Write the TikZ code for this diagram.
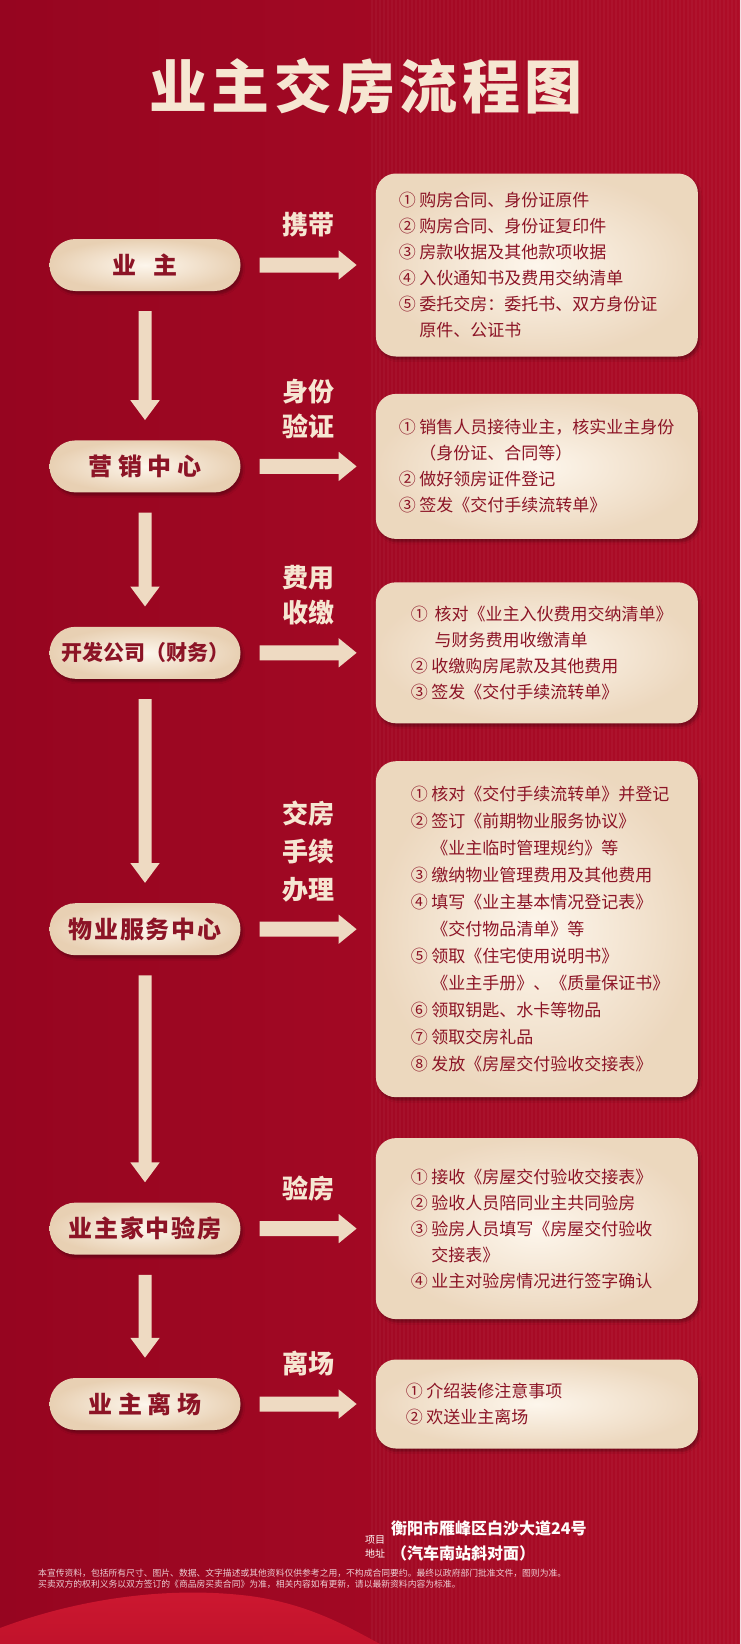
\documentclass[tikz,border=0pt]{standalone}
\usepackage{fontspec}
\setmainfont{Noto Sans CJK SC}
\usetikzlibrary{positioning,arrows.meta,shapes.misc,shadows.blur,fadings}

\definecolor{bgred}{HTML}{A3081F}
\definecolor{bgdark}{HTML}{960520}
\definecolor{bglight}{HTML}{AE0C27}
\definecolor{creamhi}{HTML}{FDF6EC}
\definecolor{creamlo}{HTML}{E8D0B3}
\definecolor{arrowcream}{HTML}{EEDAC2}
\definecolor{labelcream}{HTML}{F6E6D2}
\definecolor{txtred}{HTML}{8C1426}
\definecolor{swoosh}{HTML}{D41A33}

\newcommand{\num}[1]{\makebox[1.2em][l]{#1}}
\newcommand{\cont}{\hspace*{1.2em}}

\begin{document}
\begin{tikzpicture}[
    x=1pt, y=-1pt,
    pill/.style={rounded rectangle, minimum width=191pt, minimum height=52pt, inner sep=0pt,
        inner color=creamhi, outer color=creamlo, text=txtred,
        blur shadow={shadow xshift=2pt, shadow yshift=-3pt, shadow opacity=30},
        font=\bfseries\fontsize{24}{28}\selectfont\addfontfeature{LetterSpace=#1}},
    pill/.default=8,
    infobox/.style={rectangle, rounded corners=20pt, minimum width=322pt, inner xsep=0pt,
        inner color=creamhi, outer color=creamlo!80!creamhi, text=txtred,
        blur shadow={shadow xshift=2pt, shadow yshift=-3pt, shadow opacity=30},
        align=left, text width=#1, font=\fontsize{17}{26}\selectfont},
    infobox/.default=276pt,
    downarrow/.style={draw=arrowcream, line width=13pt, -{Triangle[width=28pt,length=20pt]},
        shorten <=20pt, shorten >=20pt},
    rightarrow/.style={draw=arrowcream, line width=15pt, -{Triangle[width=28pt,length=18pt]},
        shorten <=19pt, shorten >=19pt},
    steplabel/.style={above=20pt, inner sep=0pt, align=center, text=labelcream,
        font=\bfseries\fontsize{26}{35}\selectfont}
]
\useasboundingbox (0,0) rectangle (740,1644);

% background
\shade[left color=bgdark, right color=bglight] (0,0) rectangle (740,1644);
\foreach \sx in {372,376,...,740}
    \draw[white, opacity=0.035, line width=1.2pt] (\sx,0) -- (\sx,1644);
\shade[top color=swoosh, bottom color=swoosh!70!bgred, opacity=0.9]
    (0,1628) .. controls (80,1598) and (170,1586) .. (250,1596)
    .. controls (310,1604) and (350,1628) .. (380,1644) -- (0,1644) -- cycle;

% title
\node[text=labelcream, font=\bfseries\fontsize{58}{60}\selectfont\addfontfeature{LetterSpace=8}]
    (title) at (366,86) {业主交房流程图};

% left column
\node[pill] (yz) at (145,265) {业\hspace{0.7em}主};
\node[pill=24, below=149pt of yz] (yxzx) {营销中心};
\node[pill=0, below=134pt of yxzx, font=\bfseries\fontsize{21}{26}\selectfont] (kfgs) {开发公司（财务）};
\node[pill, below=224pt of kfgs] (wyzx) {物业服务中心};
\node[pill, below=247pt of wyzx] (yfang) {业主家中验房};
\node[pill=24, below=123pt of yfang] (lc) {业主离场};

% right column
\node[infobox, minimum height=183pt, right=135pt of yz] (bx1)
    {\num{①}购房合同、身份证原件\\
     \num{②}购房合同、身份证复印件\\
     \num{③}房款收据及其他款项收据\\
     \num{④}入伙通知书及费用交纳清单\\
     \num{⑤}委托交房：委托书、双方身份证\\
     \cont 原件、公证书};
\node[infobox, minimum height=145pt, right=135pt of yxzx] (bx2)
    {\num{①}销售人员接待业主，核实业主身份\\
     \cont（身份证、合同等）\\
     \num{②}做好领房证件登记\\
     \num{③}签发《交付手续流转单》};
\node[infobox=252pt, minimum height=141pt, right=135pt of kfgs] (bx3)
    {\makebox[1.4em][l]{①}核对《业主入伙费用交纳清单》\\
     \hspace*{1.4em}与财务费用收缴清单\\
     \num{②}收缴购房尾款及其他费用\\
     \num{③}签发《交付手续流转单》};
\node[infobox=252pt, minimum height=336pt, right=135pt of wyzx, font=\fontsize{17}{27}\selectfont] (bx4)
    {\num{①}核对《交付手续流转单》并登记\\
     \num{②}签订《前期物业服务协议》\\
     \cont《业主临时管理规约》等\\
     \num{③}缴纳物业管理费用及其他费用\\
     \num{④}填写《业主基本情况登记表》\\
     \cont《交付物品清单》等\\
     \num{⑤}领取《住宅使用说明书》\\
     \cont《业主手册》、《质量保证书》\\
     \num{⑥}领取钥匙、水卡等物品\\
     \num{⑦}领取交房礼品\\
     \num{⑧}发放《房屋交付验收交接表》};
\node[infobox=252pt, minimum height=181pt, right=135pt of yfang] (bx5)
    {\num{①}接收《房屋交付验收交接表》\\
     \num{②}验收人员陪同业主共同验房\\
     \num{③}验房人员填写《房屋交付验收\\
     \cont 交接表》\\
     \num{④}业主对验房情况进行签字确认};
\node[infobox=262pt, minimum height=89pt, right=135pt of lc] (bx6)
    {\num{①}介绍装修注意事项\\
     \num{②}欢送业主离场};

% arrows down
\draw[downarrow] (yz) -- (yxzx);
\draw[downarrow] (yxzx) -- (kfgs);
\draw[downarrow] (kfgs) -- (wyzx);
\draw[downarrow] (wyzx) -- (yfang);
\draw[downarrow] (yfang) -- (lc);

% arrows right with labels
\draw[rightarrow] (yz) -- node[steplabel] (lb1) {携带} (bx1);
\draw[rightarrow] (yxzx) -- node[steplabel] (lb2) {身份\\验证} (bx2);
\draw[rightarrow] (kfgs) -- node[steplabel] (lb3) {费用\\收缴} (bx3);
\draw[rightarrow] (wyzx) -- node[steplabel, font=\bfseries\fontsize{26}{38}\selectfont] (lb4) {交房\\手续\\办理} (bx4);
\draw[rightarrow] (yfang) -- node[steplabel] (lb5) {验房} (bx5);
\draw[rightarrow] (lc) -- node[steplabel] (lb6) {离场} (bx6);

% footer
\node[text=white!85!labelcream, align=center, inner sep=0pt, font=\fontsize{10}{14}\selectfont]
    (xmdz) at (375,1547) {项目\\地址};
\node[anchor=west, inner sep=0pt, text=white!90!labelcream, align=left,
    font=\bfseries\fontsize{16}{25}\selectfont] (addr) at (391,1541)
    {衡阳市雁峰区白沙大道24号\\（汽车南站斜对面）};
\node[anchor=north west, inner sep=0pt, text=white, opacity=0.8, align=left,
    font=\fontsize{8.8}{11}\selectfont] (note) at (38,1569)
    {本宣传资料，包括所有尺寸、图片、数据、文字描述或其他资料仅供参考之用，不构成合同要约。最终以政府部门批准文件，图则为准。\\
     买卖双方的权利义务以双方签订的《商品房买卖合同》为准，相关内容如有更新，请以最新资料内容为标准。};

\end{tikzpicture}
\end{document}
